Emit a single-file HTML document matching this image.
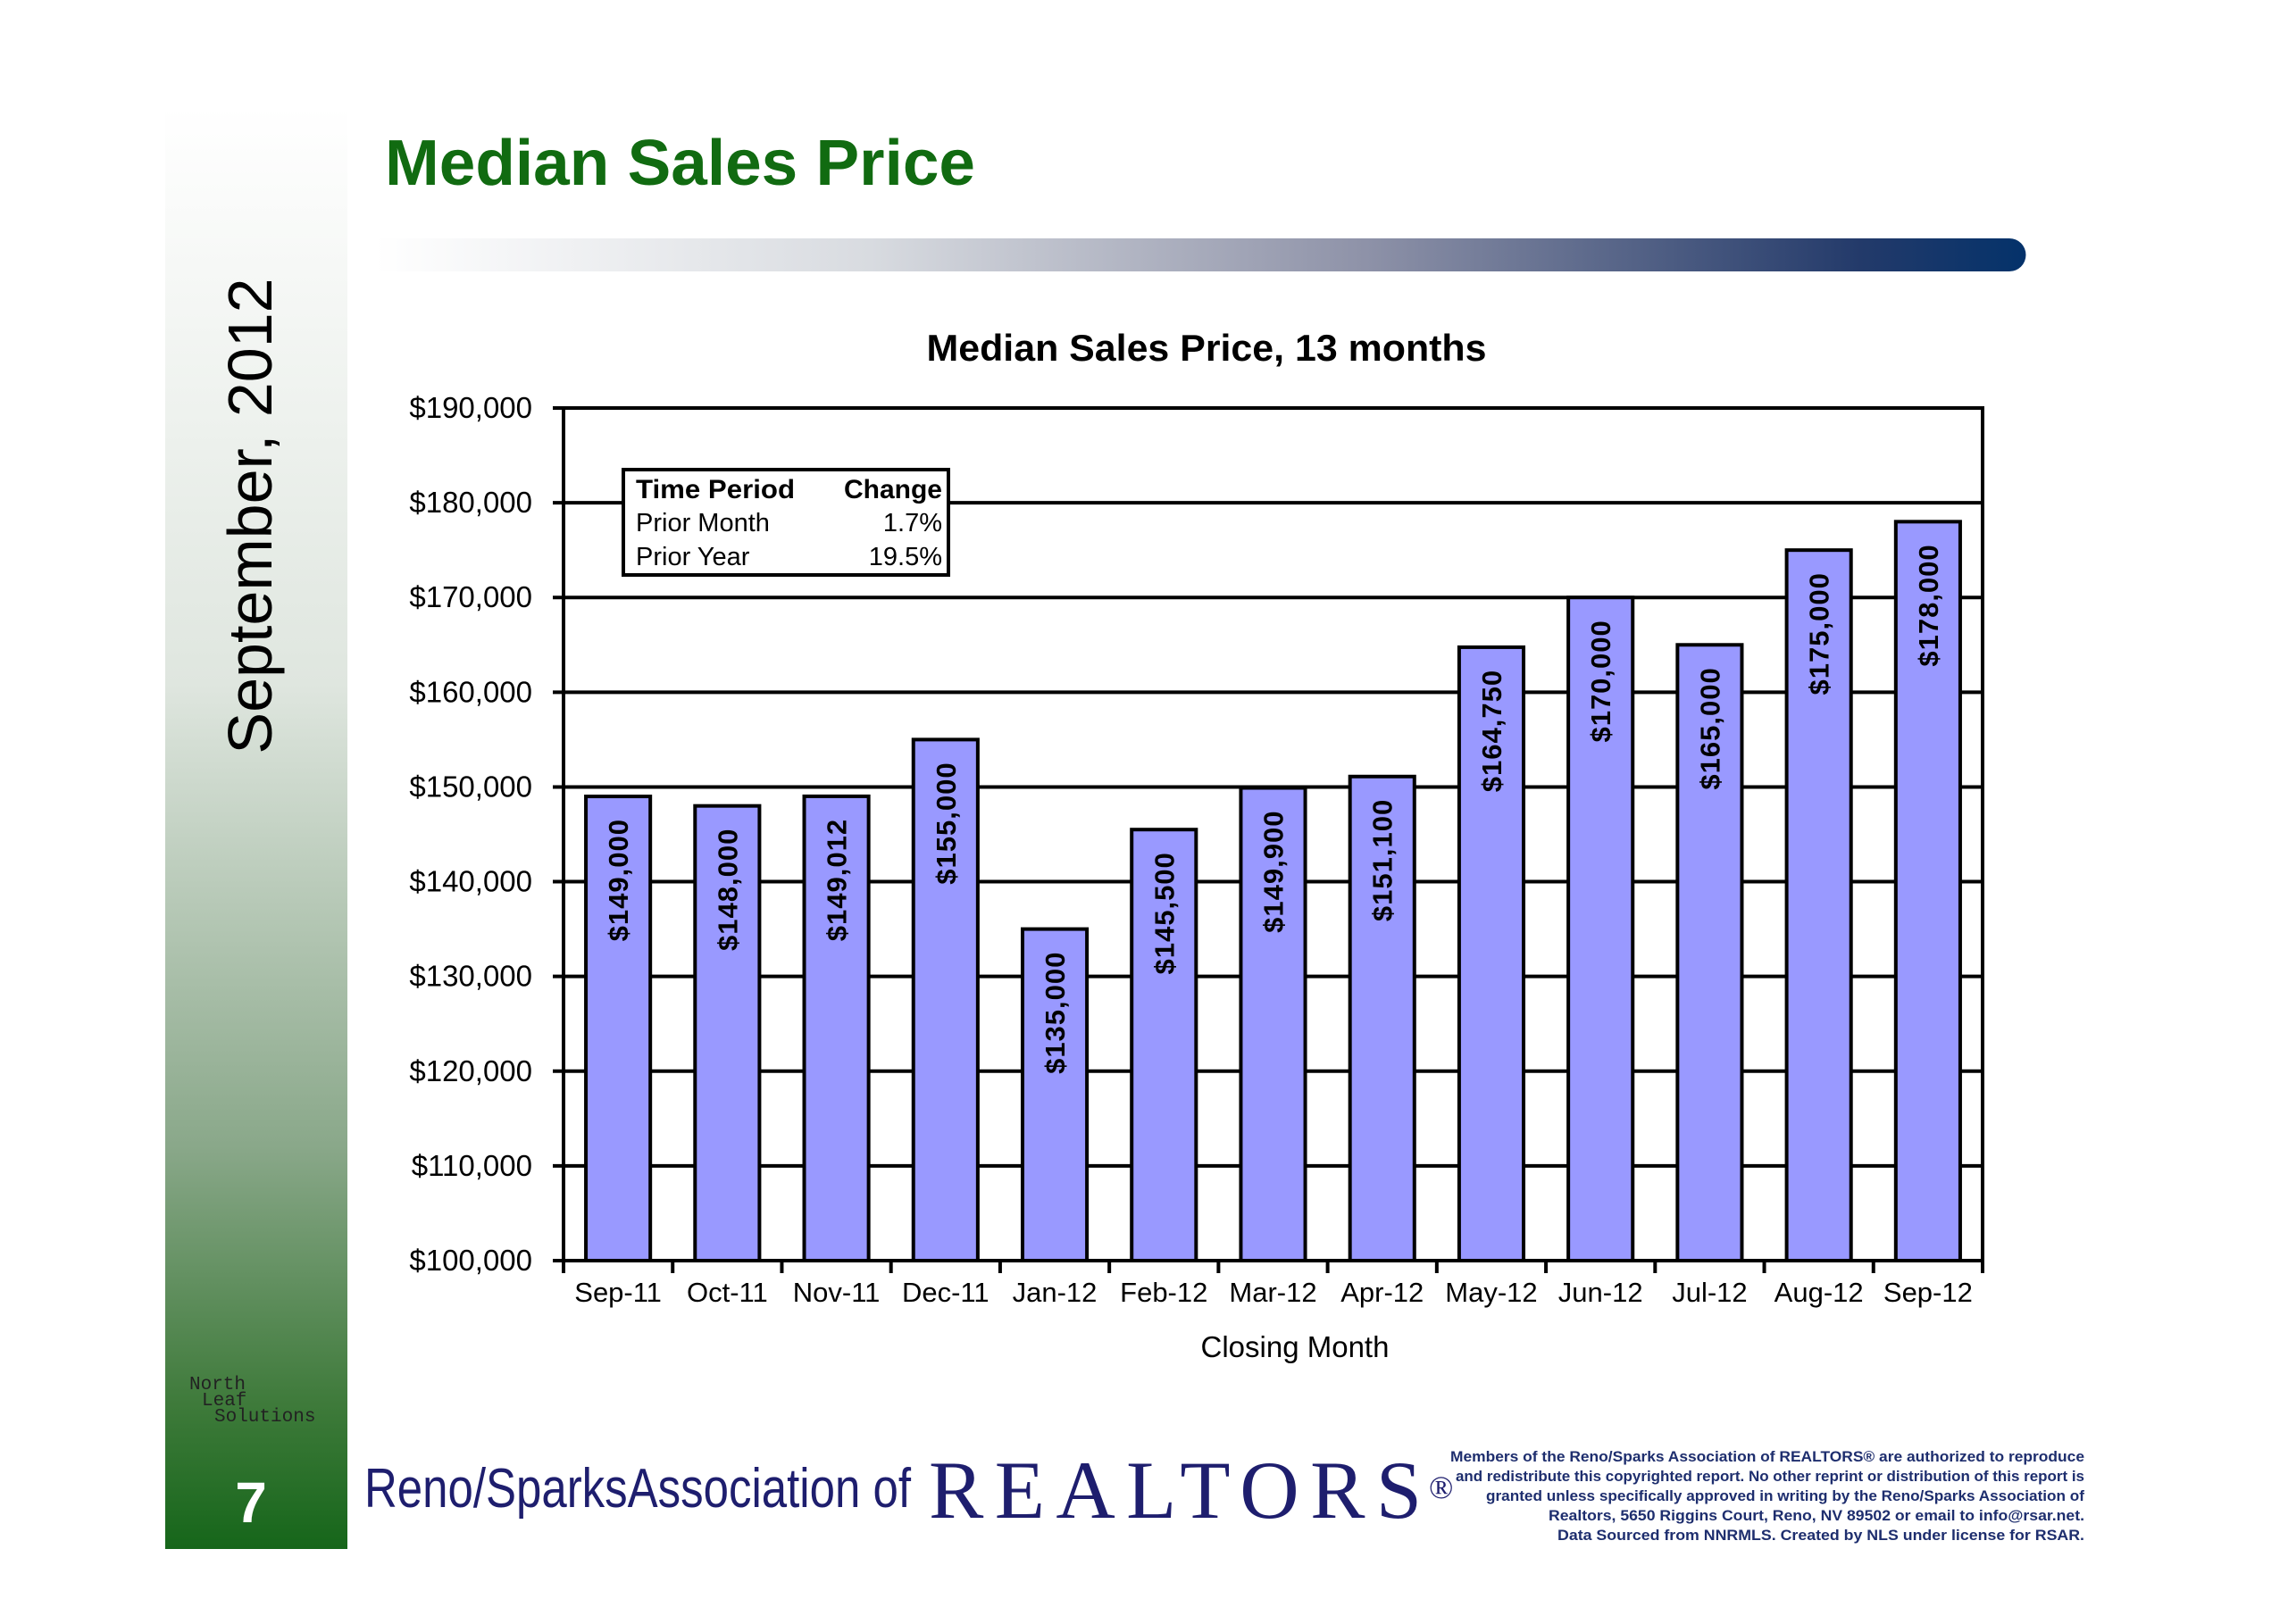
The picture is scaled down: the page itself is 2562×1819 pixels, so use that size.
<!DOCTYPE html>
<html><head><meta charset="utf-8"><style>
html,body{margin:0;padding:0;background:#fff}
svg{display:block;font-family:"Liberation Sans",Arial,sans-serif}
</style></head><body>
<svg id="chart" width="2562" height="1819" viewBox="0 0 2562 1819" xmlns="http://www.w3.org/2000/svg">
<defs>
<linearGradient id="side" x1="0" y1="0" x2="0" y2="1">
<stop offset="0" stop-color="#ffffff"/><stop offset="0.4" stop-color="#dfe6df"/><stop offset="0.72" stop-color="#8aa88a"/><stop offset="0.9" stop-color="#3e7a3a"/><stop offset="1" stop-color="#16661a"/></linearGradient>
<linearGradient id="bar" x1="0" y1="0" x2="1" y2="0">
<stop offset="0" stop-color="#ffffff"/><stop offset="0.3" stop-color="#d8dbe0"/><stop offset="0.6" stop-color="#8e92a8"/><stop offset="0.9" stop-color="#233a6a"/><stop offset="1" stop-color="#04326a"/></linearGradient>
</defs>
<rect x="185" y="120" width="204" height="1615" fill="url(#side)"/>
<text x="0" y="0" transform="translate(304,578) rotate(-90)" text-anchor="middle" font-size="70" fill="#000">September, 2012</text>
<text x="212" y="1556" font-size="21" font-family="Liberation Mono,monospace" fill="#222">North</text>
<text x="226" y="1574" font-size="21" font-family="Liberation Mono,monospace" fill="#222">Leaf</text>
<text x="240" y="1592" font-size="21" font-family="Liberation Mono,monospace" fill="#222">Solutions</text>
<text x="281" y="1705" text-anchor="middle" font-size="64" font-weight="bold" fill="#fff">7</text>
<text x="431" y="207" font-size="72" font-weight="bold" fill="#116b11" textLength="661" lengthAdjust="spacingAndGlyphs">Median Sales Price</text>
<path d="M420 267 H2250 A18 18 0 0 1 2250 304 H420 Z" fill="url(#bar)"/>
<text x="1351" y="404" text-anchor="middle" font-size="42" font-weight="bold" textLength="627" lengthAdjust="spacingAndGlyphs">Median Sales Price, 13 months</text>
<g id="plot"></g>
<g>
<rect x="706" y="530" width="364" height="118" fill="#fff" stroke="#000" stroke-width="4" transform="translate(-8,-4)"/>
<g transform="translate(-8,-4)">
<text x="720" y="562" font-size="30" font-weight="bold" textLength="178" lengthAdjust="spacingAndGlyphs">Time Period</text>
<text x="1063" y="562" font-size="30" font-weight="bold" text-anchor="end">Change</text>
<text x="720" y="599" font-size="29">Prior Month</text>
<text x="1063" y="599" font-size="29" text-anchor="end">1.7%</text>
<text x="720" y="637" font-size="29">Prior Year</text>
<text x="1063" y="637" font-size="29" text-anchor="end">19.5%</text>
</g>
</g>
<text x="1450" y="1536" text-anchor="middle" font-size="33" dy="-16">Closing Month</text>
<text x="408" y="1708" font-size="62" fill="#1e1e6e" textLength="612" lengthAdjust="spacingAndGlyphs" dy="-20">Reno/SparksAssociation of</text>
<text x="1040" y="1720" font-size="92" font-family="Liberation Serif,serif" fill="#1e1e6e" textLength="552" lengthAdjust="spacing" dy="-20">REALTORS</text>
<text x="1600" y="1698" font-size="36" font-family="Liberation Serif,serif" fill="#1e1e6e" dy="-20">®</text>
<g font-size="17" font-weight="bold" fill="#1e2e6e" text-anchor="end" transform="translate(-26,-18)">
<text x="2360" y="1655" textLength="710" lengthAdjust="spacingAndGlyphs">Members of the Reno/Sparks Association of REALTORS® are authorized to reproduce</text>
<text x="2360" y="1677" textLength="704" lengthAdjust="spacingAndGlyphs">and redistribute this copyrighted report.  No other reprint or distribution of this report is</text>
<text x="2360" y="1699" textLength="670" lengthAdjust="spacingAndGlyphs">granted unless specifically approved in writing by the Reno/Sparks Association of</text>
<text x="2360" y="1721" textLength="600" lengthAdjust="spacingAndGlyphs">Realtors, 5650 Riggins Court, Reno, NV 89502 or email to info@rsar.net.</text>
<text x="2360" y="1743" textLength="590" lengthAdjust="spacingAndGlyphs">Data Sourced from NNRMLS.  Created by NLS under license for RSAR.</text>
</g>
</svg>
<script>
const categories=["Sep-11","Oct-11","Nov-11","Dec-11","Jan-12","Feb-12","Mar-12","Apr-12","May-12","Jun-12","Jul-12","Aug-12","Sep-12"];
const values=[149000,148000,149012,155000,135000,145500,149900,151100,164750,170000,165000,175000,178000];
const valueLabels=["$149,000","$148,000","$149,012","$155,000","$135,000","$145,500","$149,900","$151,100","$164,750","$170,000","$165,000","$175,000","$178,000"];
const yTicks=[100000,110000,120000,130000,140000,150000,160000,170000,180000,190000];
const yTickLabels=["$100,000","$110,000","$120,000","$130,000","$140,000","$150,000","$160,000","$170,000","$180,000","$190,000"];

const NS="http://www.w3.org/2000/svg";
const L=631,R=2220,T=457,B=1412,yMin=100000,yMax=190000;
const y=v=>B-(v-yMin)/(yMax-yMin)*(B-T);
const band=(R-L)/categories.length;
const x=i=>L+band*i;
const g=document.getElementById('plot');
function mk(tag,attrs){const e=document.createElementNS(NS,tag);for(const k in attrs)e.setAttribute(k,attrs[k]);g.appendChild(e);return e;}
yTicks.forEach((t,i)=>{
  const ln=mk('line',{x1:L-12,x2:R,y1:y(t),y2:y(t),stroke:'#000','stroke-width':4});
  
  
  const tx=mk('text',{x:596,y:y(t)+11,'text-anchor':'end','font-size':33});
  tx.textContent=yTickLabels[i];
  
  
});
const bw=band*0.59;
values.forEach((v,i)=>{
  const cx=x(i)+band/2;
  const r=mk('rect',{x:cx-bw/2,y:y(v),width:bw,height:B-y(v),fill:'#9999ff',stroke:'#000','stroke-width':4});
  
  
  const t=mk('text',{transform:`translate(${cx+11},${y(v)+25}) rotate(-90)`,'text-anchor':'end','font-size':31,'font-weight':'bold','letter-spacing':'1'});
  t.textContent=valueLabels[i];
  
  
  const xl=mk('text',{x:cx,y:1474,dy:-16,'text-anchor':'middle','font-size':31});
  xl.textContent=categories[i];
  
  
});
for(let i=0;i<=categories.length;i++){
  const tk=mk('line',{x1:x(i),x2:x(i),y1:B,y2:B+14,stroke:'#000','stroke-width':4});
  
  
}
const frame=mk('rect',{x:L,y:T,width:R-L,height:B-T,fill:'none',stroke:'#000','stroke-width':4});


</script>
</body></html>
